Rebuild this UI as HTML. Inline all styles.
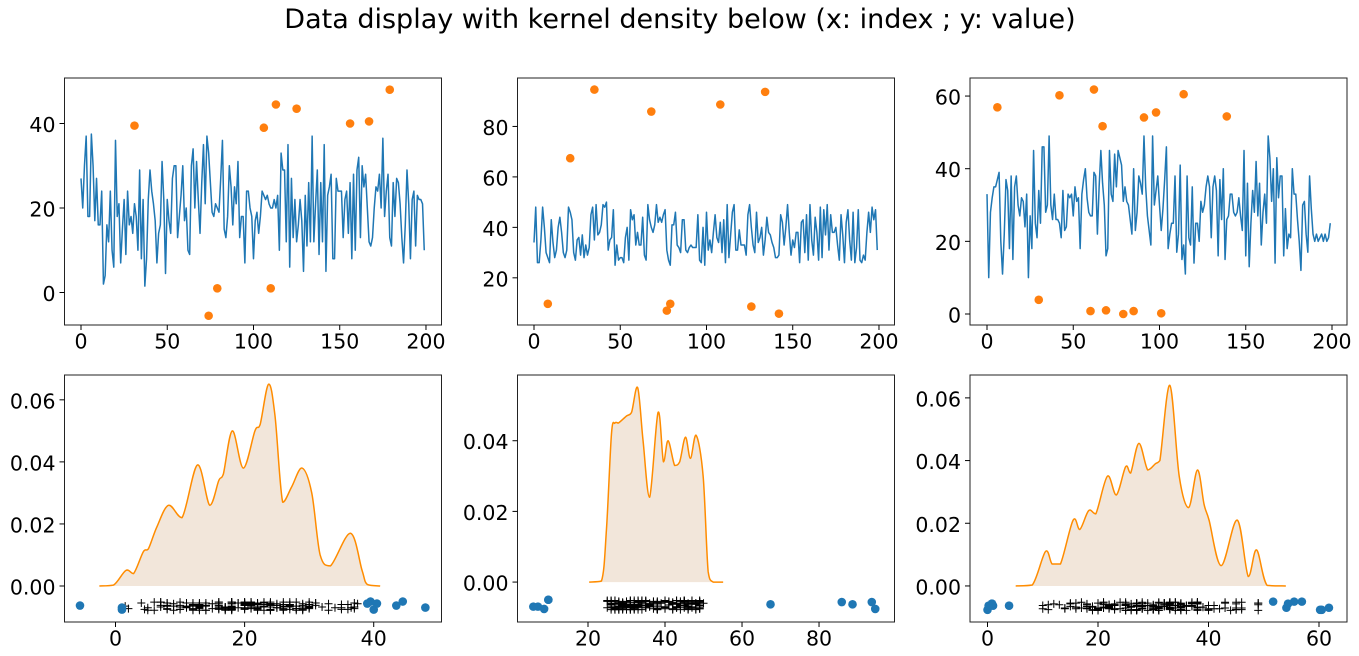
<!DOCTYPE html>
<html><head><meta charset="utf-8">
<style>
html,body{margin:0;padding:0;background:#fff;}
svg{display:block;font-family:"DejaVu Sans","Liberation Sans",sans-serif;}
</style></head>
<body>
<svg id="fig" width="1359" height="656" viewBox="0 0 1359 656" xmlns="http://www.w3.org/2000/svg">
<rect width="1359" height="656" fill="#fff"/>
<text x="680" y="28" font-size="27" text-anchor="middle" fill="#000">Data display with kernel density below (x: index ; y: value)</text>
</svg>
<script>
// ---------- data ----------
const series1 = [27,20,30,37,18,18,37.5,30,17,27,16,16,24,2,4,16,12,24,10,6,36,18,21,7,15,22,9,24,16,18,14,21,18,10,29,8,22,1.5,8,22,29,24,21,17,7,14,16,31,22,4.5,22,17,14,27,30,30,13,18,23,30,17,20,10,9,30,34,20,31,22,14,26,35,21,37,33,26,19,18,21,20,19,27,36,15,13,18,30,25,16,25,21,31,13,18,18,7,24,24,20,18,8,17,19,14,18,24,23,22,23,21,20,20,22,20,23,10,33,29,29,12,35,6,27,13,22,12,16,22,17,5,23,11,26,12,37,12,21,29,9,26,12,35,5,23,25,28,8,8,27,24,24,24,13,22,24,14,26,8,28,10,29,32,13,30,25,28,20,12,11,13,20,25,24,28,20,36.5,18,24,28,13,11,26,18,27,26,21,13,7,16,29,21,8,22,24,11,23,22,22,21,10];
const series2 = [34,48,26,26,35,48,40,30,28,26,43,34,28,31,40,44,38,30,28,31,48,46,43,30,27,35,36,29,37,28,33,29,32,45,48,35,49,37,38,41,49,48,50,31,35,36,47,25,33,27,28,28,26,36,40,27,47,43,45,33,38,33,33,44,29,27,49,43,40,38,41,49,42,44,42,45,47,31,27,25,41,41,46,33,32,30,43,43,31,30,32,33,32,32,32,45,27,26,40,25,46,31,35,30,38,45,36,34,42,30,43,26,49,28,37,46,49,31,31,39,33,33,33,29,45,49,40,33,30,46,34,36,40,29,35,44,38,37,34,32,28,28,29,45,42,33,40,49,38,29,35,32,38,38,26,42,43,30,45,27,49,35,29,44,38,27,48,28,47,37,49,31,45,38,38,40,33,27,45,37,26,42,47,35,27,46,26,32,47,27,26,29,27,38,46,38,48,43,47,31];
const series3 = [33,10,28,32,35,35,37,39,20,11,22,37,34,18,38,15,35,38,30,27,32,31,24,33,10,27,18,45,25,21,34,25,46,46,28,30,49,30,26,33,26,26,25,21,34,23,24,33,32,33,27,35,31,32,18,33,37,40,32,28,27,27,39,38,22,35,45,36,30,16,18,45,33,31,44,35,45,43,41,31,35,31,30,26,22,40,23,28,38,36,33,49,35,27,23,19,49,30,34,38,30,23,29,37,46,18,22,25,25,38,17,22,41,15,19,11,38,21,19,35,14,25,25,20,31,28,30,35,38,35,21,35,38,34,16,37,26,40,15,26,27,33,33,28,27,28,32,27,23,45,16,36,13,25,34,28,42,27,36,19,28,33,25,49,43,31,40,14,43,32,38,38,16,29,18,22,21,40,33,33,26,20,12,30,31,22,17,38,29,22,20,22,20,21,22,20,22,20,21,25];
const outIdx1 = [31,74,79,106,110,113,125,156,167,179];
const outVal1 = [39.5,-5.5,1,39,1,44.5,43.5,40,40.5,48];
const outIdx2 = [8,21,35,68,77,79,108,126,134,142];
const outVal2 = [9.7,67.4,94.6,85.9,7,9.7,88.7,8.6,93.7,5.8];
const outIdx3 = [6,30,42,60,62,67,69,79,85,91,98,101,114,139];
const outVal3 = [56.9,3.9,60.2,0.8,61.8,51.7,1,0,0.8,54.1,55.5,0.2,60.5,54.4];
const kdeX1 = [-2.5,-0.3,1.6,2.8,4.3,5.1,6.4,8.2,10.3,12.7,14.6,16,16.7,18.1,19.8,21.6,22.4,23.7,24.7,25.9,27.3,28.9,30.4,31.7,33.3,36.4,38.2,39,41];
const kdeY1 = [0,0.0003,0.005,0.004,0.011,0.012,0.019,0.026,0.022,0.039,0.026,0.034,0.036,0.050,0.038,0.050,0.052,0.065,0.055,0.027,0.032,0.038,0.030,0.010,0.0065,0.017,0.005,0.0005,0];
const kdeX2 = [20.3,23.5,24.8,26.1,27,27.9,30,31.3,32.9,34.3,36,38.2,39.6,40.8,42.5,43.8,45.3,46.6,48.1,49.9,51.2,52.5,55.1];
const kdeY2 = [0,0.0003,0.015,0.042,0.045,0.045,0.047,0.048,0.055,0.040,0.024,0.048,0.034,0.040,0.033,0.034,0.041,0.035,0.0415,0.030,0.003,0,0];
const kdeX3 = [5.1,8.1,10.5,11.7,13.2,15.5,16.7,18.3,19.6,21.7,23.3,25,25.9,27.4,29,30.4,31.2,33,34.7,36.4,38,39.2,40.1,42.3,45.2,47.2,48.7,50.6,54];
const kdeY3 = [0,0.0003,0.011,0.007,0.007,0.021,0.018,0.024,0.023,0.035,0.029,0.038,0.036,0.0455,0.037,0.039,0.040,0.064,0.035,0.025,0.037,0.026,0.021,0.0065,0.021,0.003,0.0115,0.0002,0];
const topXTicks = [0,50,100,150,200];
const yTicks1 = [0,20,40];
const yTicks2 = [20,40,60,80];
const yTicks3 = [0,20,40,60];
const botXTicks1 = [0,20,40];
const botXTicks2 = [20,40,60,80];
const botXTicks3 = [0,20,40,60];
const botYTicks1 = [0,0.02,0.04,0.06];
const botYTicks2 = [0,0.02,0.04];
const botYTicks3 = [0,0.02,0.04,0.06];

// ---------- drawing ----------
const NS = "http://www.w3.org/2000/svg";
const svg = document.getElementById('fig');
const FS = 20.5;
function el(tag, attrs, parent){
  const e = document.createElementNS(NS, tag);
  for (const k in attrs) e.setAttribute(k, attrs[k]);
  (parent||svg).appendChild(e);
  return e;
}
function makeAxes(name, box, xd, yd){
  const g = el('g', {});
  
  
  const sx = v => box.x0 + (v - xd[0]) / (xd[1] - xd[0]) * (box.x1 - box.x0);
  const sy = v => box.y1 - (v - yd[0]) / (yd[1] - yd[0]) * (box.y1 - box.y0);
  return {g, sx, sy, box};
}
function drawFrame(ax, xt, yt, fmtY){
  const {g, sx, sy, box} = ax;
  const fr = el('rect', {x:box.x0, y:box.y0, width:box.x1-box.x0, height:box.y1-box.y0, fill:'none', stroke:'#222', 'stroke-width':1}, g);
  
  
  xt.forEach(v => {
    const x = sx(v);
    el('line', {x1:x, x2:x, y1:box.y1, y2:box.y1+5, stroke:'#000', 'stroke-width':1}, g);
    const t = el('text', {x:x, y:box.y1+23.5, 'font-size':FS, 'text-anchor':'middle', fill:'#000'}, g);
    
    
    t.textContent = String(v);
  });
  yt.forEach(v => {
    const y = sy(v);
    el('line', {x1:box.x0-5, x2:box.x0, y1:y, y2:y, stroke:'#000', 'stroke-width':1}, g);
    const t = el('text', {x:box.x0-9, y:y+8.5, 'font-size':FS, 'text-anchor':'end', fill:'#000'}, g);
    
    
    t.textContent = fmtY ? fmtY(v) : String(v);
  });
}
function smoothPath(P){
  let d = `M${P[0][0].toFixed(2)},${P[0][1].toFixed(2)}`;
  for (let i = 0; i < P.length - 1; i++){
    const p0 = P[Math.max(0,i-1)], p1 = P[i], p2 = P[i+1], p3 = P[Math.min(P.length-1,i+2)];
    const c1x = p1[0] + (p2[0]-p0[0])/6, c1y = p1[1] + (p2[1]-p0[1])/6;
    const c2x = p2[0] - (p3[0]-p1[0])/6, c2y = p2[1] - (p3[1]-p1[1])/6;
    const maxY = Math.max(p1[1], p2[1]);
    d += ` C${c1x.toFixed(2)},${Math.min(c1y,maxY).toFixed(2)} ${c2x.toFixed(2)},${Math.min(c2y,maxY).toFixed(2)} ${p2[0].toFixed(2)},${p2[1].toFixed(2)}`;
  }
  return d;
}
function drawTop(name, box, xd, yd, series, oi, ov, yt){
  const ax = makeAxes(name, box, xd, yd);
  const pts = series.map((v,i) => ax.sx(i).toFixed(2)+','+ax.sy(v).toFixed(2)).join(' ');
  const pl = el('polyline', {points:pts, fill:'none', stroke:'#1f77b4', 'stroke-width':1.5, 'stroke-linejoin':'round'}, ax.g);
  
  
  oi.forEach((idx,k) => {
    const c = el('circle', {cx:ax.sx(idx), cy:ax.sy(ov[k]), r:4.3, fill:'#ff7f0e'}, ax.g);
    
    
  });
  drawFrame(ax, topXTicks, yt);
}
function drawBot(name, box, xd, yd, kx, ky, series, ov, xt, yt){
  const ax = makeAxes(name, box, xd, yd);
  const P = kx.map((v,i) => [ax.sx(v), ax.sy(ky[i])]);
  const d = smoothPath(P);
  const area = el('path', {d: d + ` L${ax.sx(kx[kx.length-1]).toFixed(2)},${ax.sy(0).toFixed(2)} L${ax.sx(kx[0]).toFixed(2)},${ax.sy(0).toFixed(2)} Z`, fill:'#f2e6da', stroke:'none'}, ax.g);
  
  
  const kl = el('path', {d: d, fill:'none', stroke:'#ff8c00', 'stroke-width':1.5, 'stroke-linejoin':'round'}, ax.g);
  
  
  series.forEach((v,i) => {
    const jy = -0.0052 - 0.0026 * (((i*37) % 11) / 10);
    const x = ax.sx(v), y = ax.sy(jy);
    const p = el('path', {d:`M${(x-4).toFixed(2)},${y.toFixed(2)}H${(x+4).toFixed(2)}M${x.toFixed(2)},${(y-4).toFixed(2)}V${(y+4).toFixed(2)}`, stroke:'#000', 'stroke-width':1, fill:'none'}, ax.g);
    
    
  });
  ov.forEach((v,k) => {
    const jy = -0.005 - 0.0026 * (((k*7) % 5) / 4);
    const c = el('circle', {cx:ax.sx(v), cy:ax.sy(jy), r:4.3, fill:'#1f77b4'}, ax.g);
    
    
  });
  drawFrame(ax, xt, yt, v => v.toFixed(2));
}
drawTop('top-panel-1', {x0:64.5,x1:441.5,y0:78,y1:325}, [-9.57,209], [-7.69,50.77], series1, outIdx1, outVal1, yTicks1);
drawTop('top-panel-2', {x0:517.5,x1:894.5,y0:78,y1:325}, [-9.57,209], [1.3,99.2], series2, outIdx2, outVal2, yTicks2);
drawTop('top-panel-3', {x0:970,x1:1347,y0:78,y1:325}, [-9.86,208.7], [-3.03,64.97], series3, outIdx3, outVal3, yTicks3);
drawBot('bottom-panel-1', {x0:64.5,x1:441.5,y0:375,y1:622}, [-7.9,50.5], [-0.0116,0.068], kdeX1, kdeY1, series1, outVal1, botXTicks1, botYTicks1);
drawBot('bottom-panel-2', {x0:517.5,x1:894.5,y0:375,y1:622}, [1.69,99.6], [-0.0113,0.0586], kdeX2, kdeY2, series2, outVal2, botXTicks2, botYTicks2);
drawBot('bottom-panel-3', {x0:970,x1:1347,y0:375,y1:622}, [-3.17,65.07], [-0.0115,0.0673], kdeX3, kdeY3, series3, outVal3, botXTicks3, botYTicks3);
</script>
</body></html>
